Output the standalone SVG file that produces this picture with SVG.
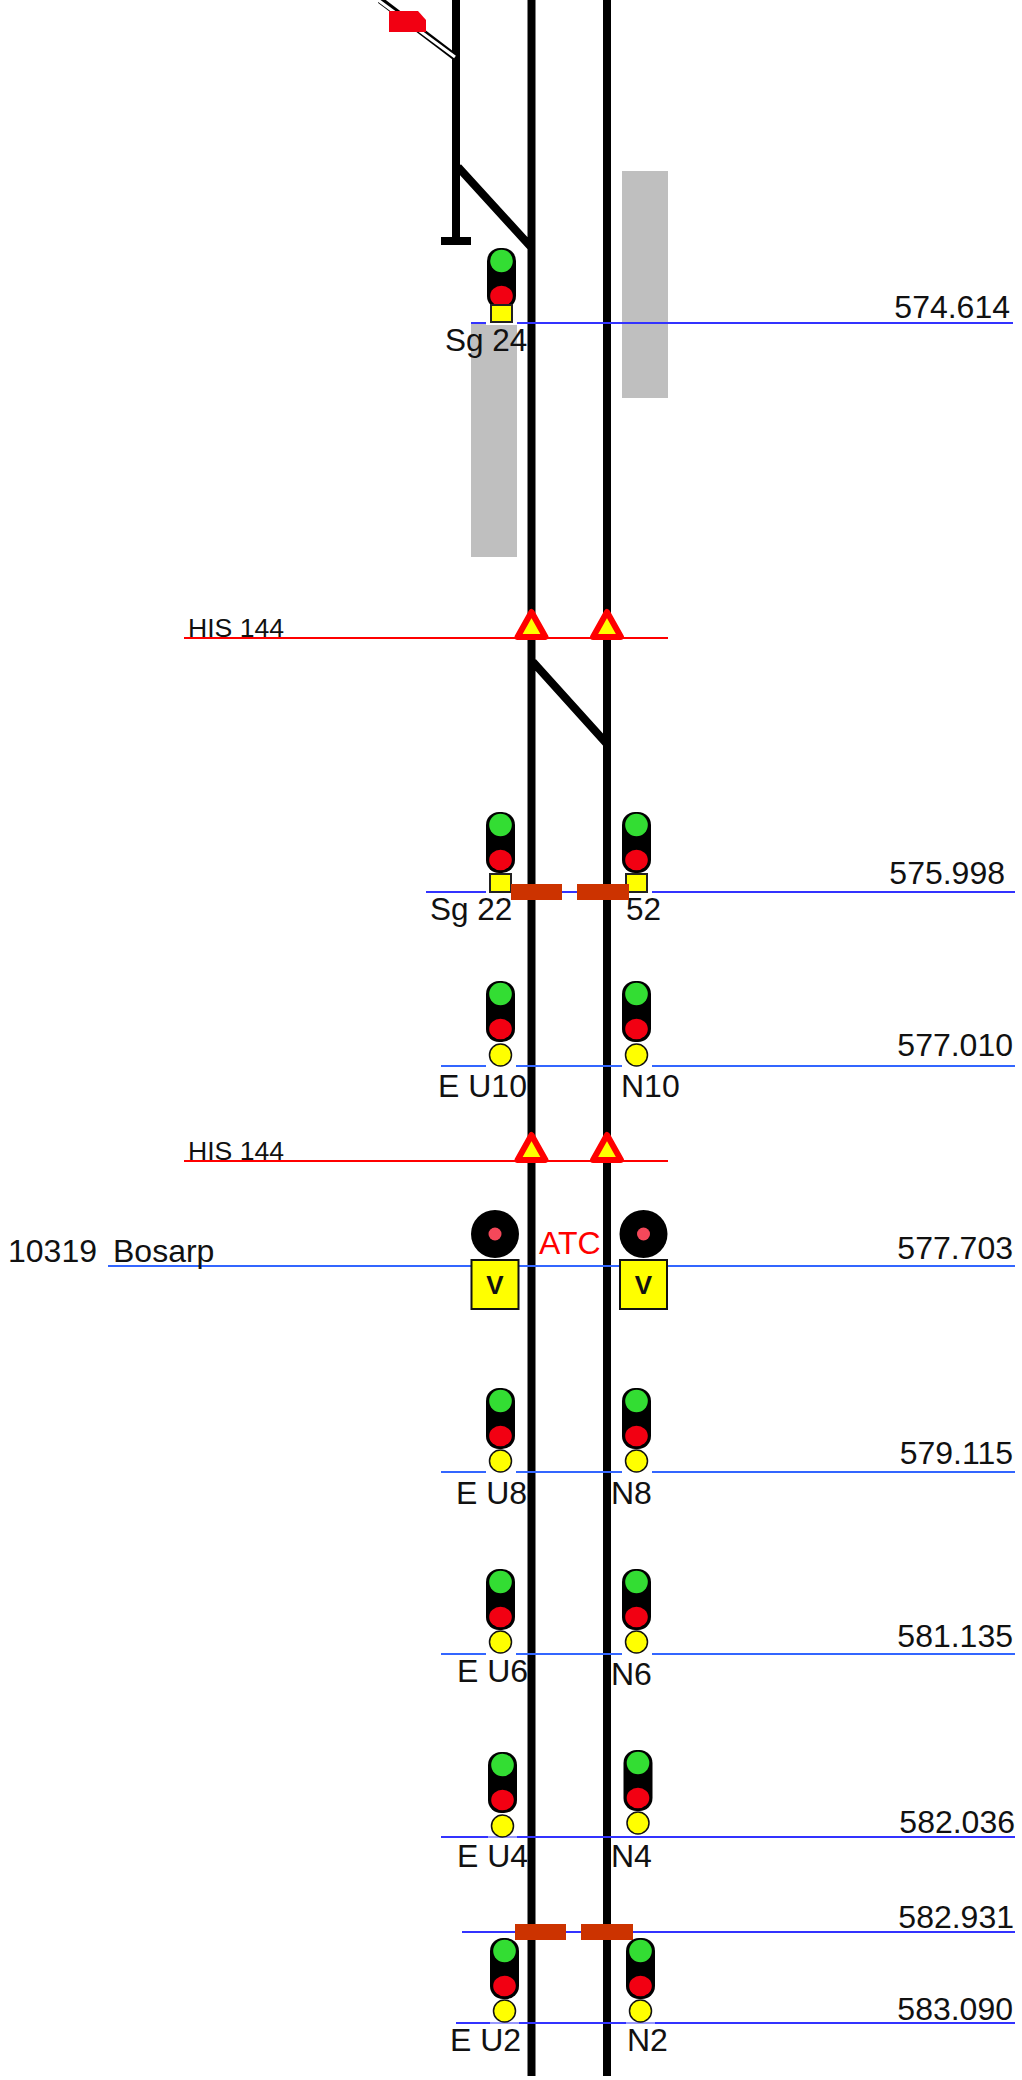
<svg xmlns="http://www.w3.org/2000/svg" width="1022" height="2080" viewBox="0 0 1022 2080">
<style>
text{font-family:"Liberation Sans",Arial,sans-serif;fill:#111}
.l{font-size:32px}.s{font-size:31.5px}.k{font-size:32px}.h{font-size:26.6px}
.tr{stroke:#000;stroke-width:8;fill:none}
.b1{stroke:#3333ff;stroke-width:2}.b2{stroke:#3366ff;stroke-width:2}.rd{stroke:#ff0000;stroke-width:2}
.gap{fill:#fff}
.brown{fill:#cc3300}
.ys{fill:#ffff00;stroke:#222;stroke-width:2}
.yc{fill:#ffff00;stroke:#111;stroke-width:1.500}
</style>
<defs>
<g id="head"><rect x="-14.500" y="0" width="29" height="61" rx="13" fill="#000"/><circle cx="0" cy="13" r="11.300" fill="#33dd33"/><ellipse cx="0" cy="48" rx="11.300" ry="10.300" fill="#f20012"/></g>
<g id="his"><path d="M0,-23 L14,2 L-14,2 Z" fill="#ffff00" stroke="#ff0000" stroke-width="6" stroke-linejoin="round"/></g>
<g id="v"><circle cx="0" cy="-26" r="24" fill="#000"/><circle cx="0" cy="-26" r="6.500" fill="#f4485a"/><rect x="-23.500" y="0" width="47" height="49" fill="#ffff00" stroke="#111" stroke-width="2"/><text x="0" y="34" text-anchor="middle" style="font-size:26px;font-weight:bold;fill:#111">V</text></g>
</defs>
<g id="platforms"><rect x="471" y="323" width="46" height="234" fill="#bfbfbf"/><rect x="622" y="171" width="46" height="227" fill="#bfbfbf"/></g>
<g id="connectors">
<path class="tr" d="M456,0V243M441,241H471M458,167L531,247M531.500,0V2076M607,0V2076M533,662L607,744"/>
<path d="M380,0L455,57" stroke="#000" stroke-width="7"/><path d="M378,0L455,57" stroke="#fff" stroke-width="3"/>
<g class="b1"><path d="M471,323H1013"/><path d="M426,892H1015"/><path d="M462,1932H1015"/><path d="M441,1837H1015"/><path d="M456,2023H1015"/></g>
<g class="b2"><path d="M441,1066H1015"/><path d="M108,1266H1015"/><path d="M441,1472H1015"/><path d="M441,1654H1015"/></g>
<path class="rd" d="M184,638H668M184,1161H668"/>
</g>
<g id="flag"><path d="M389,11H418L426,20V32H389Z" fill="#f20012"/></g>
<g id="sg24"><rect class="gap" x="486" y="322" width="31" height="3"/><use href="#head" x="501.500" y="248"/><rect class="ys" x="491" y="305" width="21" height="17"/><text class="s" x="445" y="351">Sg 24</text></g>
<g id="his1"><text class="h" x="188" y="637">HIS 144</text><use href="#his" x="531.500" y="635"/><use href="#his" x="607" y="635"/></g>
<g id="sg22"><rect class="gap" x="486" y="891" width="30" height="3"/><use href="#head" x="500.500" y="812"/><rect class="ys" x="490" y="874" width="21" height="18"/><text class="s" x="430" y="920">Sg 22</text></g>
<g id="s52"><rect class="gap" x="622" y="891" width="30" height="3"/><use href="#head" x="636.500" y="812"/><rect class="ys" x="626" y="874" width="21" height="18"/><text class="s" x="626" y="920">52</text></g>
<g id="brown1"><rect class="brown" x="511" y="884" width="51" height="16"/><rect class="brown" x="577" y="884" width="52" height="16"/></g>
<g id="eu10"><rect class="gap" x="486" y="1065" width="30" height="3"/><use href="#head" x="500.500" y="981"/><circle class="yc" cx="500.500" cy="1055" r="11"/><text class="l" x="438" y="1097">E U10</text></g>
<g id="n10"><rect class="gap" x="622" y="1065" width="30" height="3"/><use href="#head" x="636.500" y="981"/><circle class="yc" cx="636.500" cy="1055" r="11"/><text class="l" x="621" y="1097">N10</text></g>
<g id="his2"><text class="h" x="188" y="1160">HIS 144</text><use href="#his" x="531.500" y="1158"/><use href="#his" x="607" y="1158"/></g>
<g id="bosarp"><text class="l" x="8" y="1262">10319</text><text class="l" x="113" y="1262">Bosarp</text><use href="#v" x="495" y="1260"/><use href="#v" x="643.500" y="1260"/><text x="539" y="1254" style="font-size:32px;fill:#ff0000">ATC</text></g>
<g id="eu8"><rect class="gap" x="486" y="1471" width="30" height="3"/><use href="#head" x="500.500" y="1388"/><circle class="yc" cx="500.500" cy="1461" r="11"/><text class="l" x="456" y="1504">E U8</text></g>
<g id="n8"><rect class="gap" x="622" y="1471" width="30" height="3"/><use href="#head" x="636.500" y="1388"/><circle class="yc" cx="636.500" cy="1461" r="11"/><text class="l" x="611" y="1504">N8</text></g>
<g id="eu6"><rect class="gap" x="486" y="1653" width="30" height="3"/><use href="#head" x="500.500" y="1569"/><circle class="yc" cx="500.500" cy="1642" r="11"/><text class="l" x="457" y="1682">E U6</text></g>
<g id="n6"><rect class="gap" x="622" y="1653" width="30" height="3"/><use href="#head" x="636.500" y="1569"/><circle class="yc" cx="636.500" cy="1642" r="11"/><text class="l" x="611" y="1685">N6</text></g>
<g id="eu4"><rect class="gap" x="488" y="1836" width="29" height="2" opacity=".5"/><use href="#head" x="502.500" y="1752"/><circle class="yc" cx="502.500" cy="1826" r="11"/><text class="l" x="457" y="1867">E U4</text></g>
<g id="n4"><use href="#head" x="638" y="1750"/><circle class="yc" cx="638" cy="1823" r="11"/><text class="l" x="611" y="1867">N4</text></g>
<g id="brown2"><rect class="brown" x="515" y="1924" width="51" height="16"/><rect class="brown" x="581" y="1924" width="52" height="16"/></g>
<g id="eu2"><rect class="gap" x="490" y="2022" width="29" height="2" opacity=".5"/><use href="#head" x="504.500" y="1938"/><circle class="yc" cx="504.500" cy="2011" r="11"/><text class="l" x="450" y="2051">E U2</text></g>
<g id="n2"><rect class="gap" x="626" y="2022" width="29" height="2" opacity=".5"/><use href="#head" x="640.500" y="1938"/><circle class="yc" cx="640.500" cy="2011" r="11"/><text class="l" x="627" y="2051">N2</text></g>
<g id="kms">
<text class="k" x="1010" y="318" text-anchor="end">574.614</text>
<text class="k" x="1005" y="884" text-anchor="end">575.998</text>
<text class="k" x="1013" y="1056" text-anchor="end">577.010</text>
<text class="k" x="1013" y="1259" text-anchor="end">577.703</text>
<text class="k" x="1013" y="1464" text-anchor="end">579.115</text>
<text class="k" x="1013" y="1647" text-anchor="end">581.135</text>
<text class="k" x="1015" y="1833" text-anchor="end">582.036</text>
<text class="k" x="1014" y="1928" text-anchor="end">582.931</text>
<text class="k" x="1013" y="2020" text-anchor="end">583.090</text>
</g>
</svg>
